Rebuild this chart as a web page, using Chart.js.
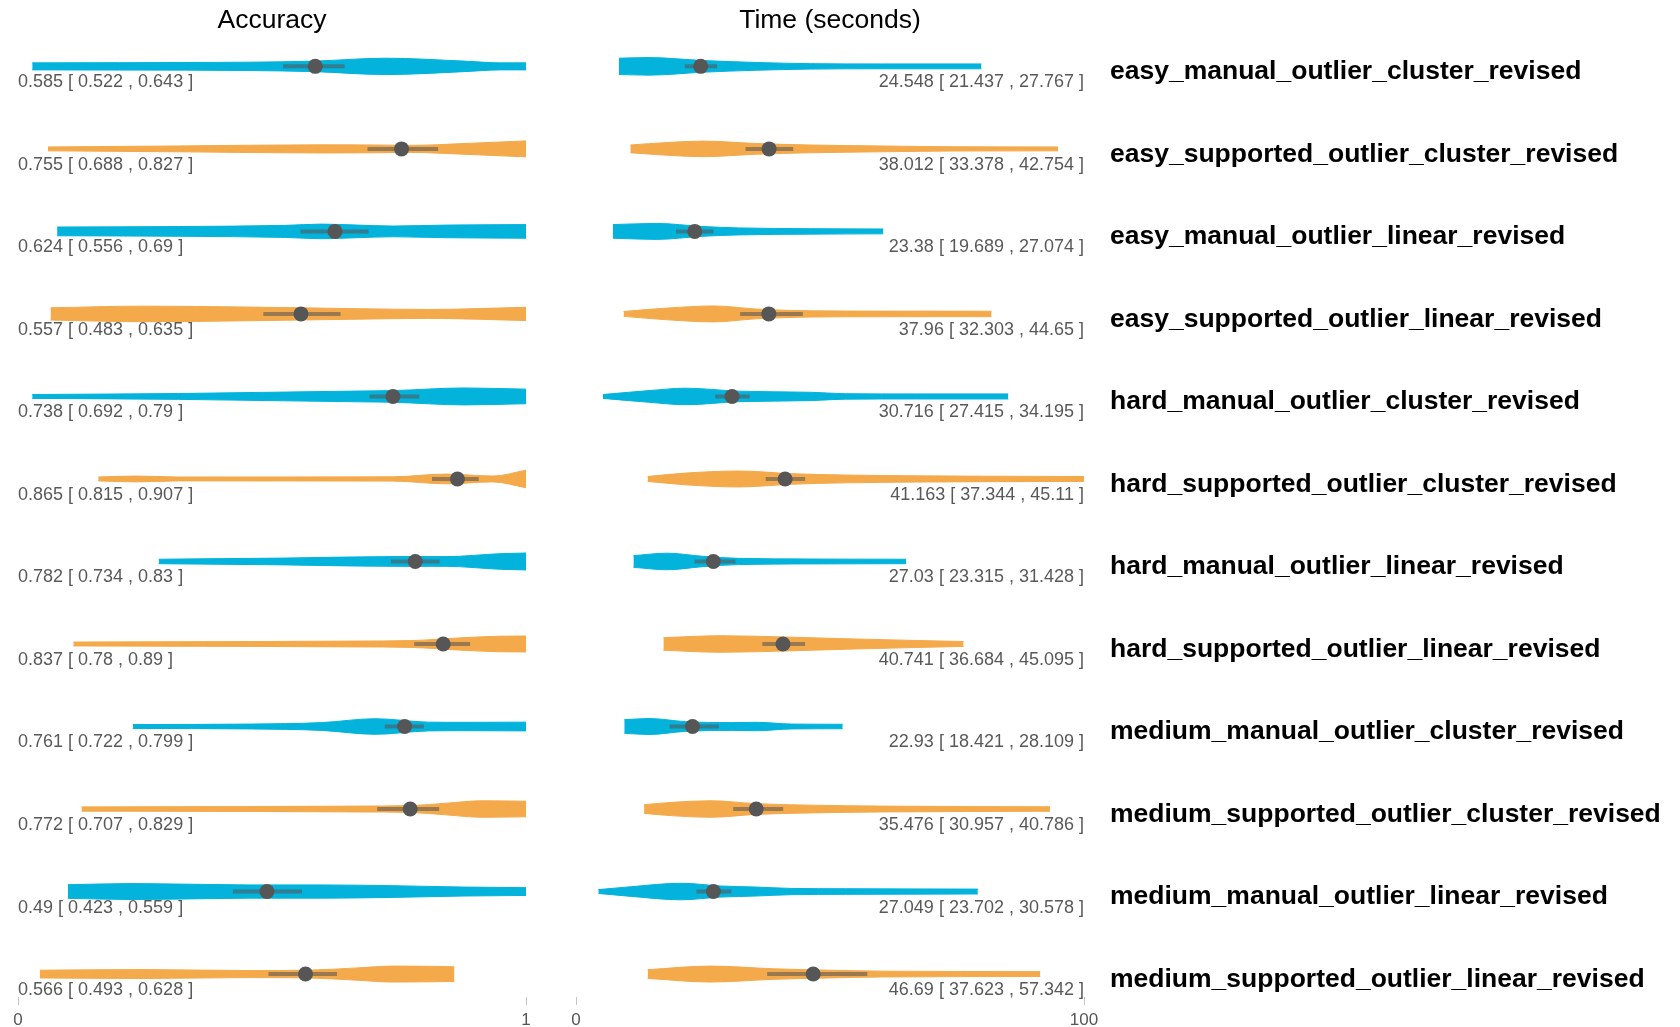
<!DOCTYPE html>
<html>
<head>
<meta charset="utf-8">
<title>Accuracy and time by condition</title>
<script src="https://cdn.jsdelivr.net/npm/chart.js@4.4.1/dist/chart.umd.min.js"></script>
<style>
  html, body { margin: 0; padding: 0; background: #ffffff; }
  #wrap { position: relative; width: 1680px; height: 1027px; overflow: hidden; background: #ffffff; }
  #accChart { position: absolute; left: 0; top: 0; }
  #timeChart { position: absolute; left: 560px; top: 0; }
</style>
</head>
<body>
<div id="wrap">
  <canvas id="accChart" width="560" height="1027"></canvas>
  <canvas id="timeChart" width="1120" height="1027"></canvas>
</div>
<script>
// ---- conditions (one row each, top to bottom) ----
const categories = [
  'easy_manual_outlier_cluster_revised',
  'easy_supported_outlier_cluster_revised',
  'easy_manual_outlier_linear_revised',
  'easy_supported_outlier_linear_revised',
  'hard_manual_outlier_cluster_revised',
  'hard_supported_outlier_cluster_revised',
  'hard_manual_outlier_linear_revised',
  'hard_supported_outlier_linear_revised',
  'medium_manual_outlier_cluster_revised',
  'medium_supported_outlier_cluster_revised',
  'medium_manual_outlier_linear_revised',
  'medium_supported_outlier_linear_revised'
];

// ---- accuracy: mean and 95% CI ----
const accMean = [0.585, 0.755, 0.624, 0.557, 0.738, 0.865, 0.782, 0.837, 0.761, 0.772, 0.49, 0.566];
const accLow  = [0.522, 0.688, 0.556, 0.483, 0.692, 0.815, 0.734, 0.78, 0.722, 0.707, 0.423, 0.493];
const accHigh = [0.643, 0.827, 0.69, 0.635, 0.79, 0.907, 0.83, 0.89, 0.799, 0.829, 0.559, 0.628];

// ---- time (seconds): mean and 95% CI ----
const timeMean = [24.548, 38.012, 23.38, 37.96, 30.716, 41.163, 27.03, 40.741, 22.93, 35.476, 27.049, 46.69];
const timeLow  = [21.437, 33.378, 19.689, 32.303, 27.415, 37.344, 23.315, 36.684, 18.421, 30.957, 23.702, 37.623];
const timeHigh = [27.767, 42.754, 27.074, 44.65, 34.195, 45.11, 31.428, 45.095, 28.109, 40.786, 30.578, 57.342];

// ---- accuracy density profiles (sample positions and relative density) ----
const accDensX = [
  [0.028, 0.2, 0.457, 0.583, 0.724, 0.878, 0.949, 1.0],
  [0.059, 0.316, 0.597, 0.70, 0.773, 0.878, 1.0],
  [0.077, 0.316, 0.527, 0.597, 0.667, 0.738, 0.843, 1.0],
  [0.064, 0.246, 0.457, 0.667, 0.808, 1.0],
  [0.028, 0.316, 0.527, 0.667, 0.738, 0.878, 1.0],
  [0.158, 0.232, 0.316, 0.738, 0.843, 0.935, 1.0],
  [0.277, 0.527, 0.738, 0.843, 0.949, 1.0],
  [0.109, 0.457, 0.667, 0.773, 0.878, 0.949, 1.0],
  [0.226, 0.457, 0.597, 0.703, 0.808, 0.878, 1.0],
  [0.125, 0.457, 0.667, 0.773, 0.843, 0.914, 1.0],
  [0.098, 0.225, 0.457, 0.597, 0.738, 0.878, 1.0],
  [0.043, 0.246, 0.457, 0.572, 0.667, 0.738, 0.808, 0.859]
];
const accDensY = [
  [0.36, 0.38, 0.43, 0.54, 0.84, 0.54, 0.36, 0.36],
  [0.2, 0.3, 0.42, 0.4, 0.36, 0.55, 0.82],
  [0.45, 0.5, 0.62, 0.75, 0.65, 0.55, 0.65, 0.7],
  [0.63, 0.8, 0.7, 0.54, 0.46, 0.68],
  [0.2, 0.3, 0.45, 0.55, 0.6, 0.87, 0.75],
  [0.2, 0.3, 0.2, 0.22, 0.5, 0.3, 0.9],
  [0.23, 0.35, 0.5, 0.5, 0.8, 0.87],
  [0.2, 0.25, 0.3, 0.35, 0.65, 0.8, 0.82],
  [0.2, 0.25, 0.4, 0.8, 0.45, 0.43, 0.45],
  [0.22, 0.25, 0.3, 0.35, 0.6, 0.85, 0.8],
  [0.7, 0.82, 0.68, 0.68, 0.6, 0.46, 0.4],
  [0.4, 0.46, 0.36, 0.4, 0.63, 0.82, 0.8, 0.75]
];

// ---- time density profiles ----
const timeDensX = [
  [8.45, 14.4, 25.0, 35.5, 46.1, 60.1, 79.8],
  [10.7, 17.9, 25.0, 35.5, 46.1, 60.1, 74.2, 94.9],
  [7.26, 15.8, 25.0, 32.0, 46.1, 60.5],
  [9.37, 17.9, 27.1, 35.5, 46.1, 60.1, 81.8],
  [5.3, 14.4, 21.5, 32.0, 46.1, 53.1, 67.1, 85.1],
  [14.1, 21.5, 32.0, 42.5, 53.1, 67.1, 81.2, 100],
  [11.3, 17.9, 25.0, 32.0, 46.1, 65.0],
  [17.2, 28.5, 42.5, 53.1, 67.1, 76.3],
  [9.5, 14.4, 21.5, 30.6, 35.5, 42.5, 52.5],
  [13.4, 19.3, 26.4, 35.5, 46.1, 60.1, 93.3],
  [4.4, 10.9, 20.7, 28.5, 35.5, 42.5, 53.1, 79.1],
  [14.1, 26.4, 39.0, 49.6, 60.1, 91.4]
];
const timeDensY = [
  [0.84, 0.9, 0.6, 0.4, 0.28, 0.25, 0.25],
  [0.4, 0.65, 0.8, 0.55, 0.4, 0.3, 0.22, 0.2],
  [0.7, 0.82, 0.5, 0.36, 0.28, 0.25],
  [0.25, 0.6, 0.82, 0.5, 0.32, 0.29, 0.28],
  [0.2, 0.6, 0.85, 0.54, 0.43, 0.28, 0.26, 0.26],
  [0.25, 0.6, 0.82, 0.54, 0.4, 0.32, 0.28, 0.25],
  [0.6, 0.85, 0.53, 0.32, 0.25, 0.23],
  [0.65, 0.85, 0.7, 0.54, 0.36, 0.25],
  [0.7, 0.82, 0.5, 0.4, 0.43, 0.25, 0.23],
  [0.45, 0.7, 0.85, 0.55, 0.4, 0.3, 0.23],
  [0.2, 0.5, 0.85, 0.57, 0.46, 0.32, 0.29, 0.25],
  [0.45, 0.82, 0.54, 0.4, 0.3, 0.25]
];

const accTicks = [0, 1];
const timeTicks = [0, 100];

// ---- styling ----
const FONT = "'Liberation Sans', Arial, Helvetica, sans-serif";
const BLUE = '#03b3dc';
const ORANGE = '#f4a94b';
const DOT = '#565656';
const CI_COLOR = 'rgba(83,83,83,0.56)';
const HALF_WIDTH = 0.118;       // row units per unit of relative density
const Y_MIN = -0.322, Y_MAX = 11.278;

Chart.defaults.font.family = FONT;
Chart.defaults.animation = false;

function rowColor(i) {
  return categories[i].includes('_manual_') ? BLUE : ORANGE;
}

function buildDatasets(densX, densY, mean, low, high) {
  const sets = [];
  categories.forEach((_, i) => {
    const col = rowColor(i);
    const common = {
      type: 'line', borderColor: col, backgroundColor: col, borderWidth: 1,
      pointRadius: 0, cubicInterpolationMode: 'monotone', order: 3
    };
    sets.push(Object.assign({}, common, {
      data: densX[i].map((x, k) => ({ x: x, y: i - densY[i][k] * HALF_WIDTH })),
      fill: false
    }));
    sets.push(Object.assign({}, common, {
      data: densX[i].map((x, k) => ({ x: x, y: i + densY[i][k] * HALF_WIDTH })),
      fill: '-1'
    }));
  });
  categories.forEach((_, i) => {
    sets.push({
      type: 'line', data: [{ x: low[i], y: i }, { x: high[i], y: i }],
      borderColor: CI_COLOR, borderWidth: 4, borderCapStyle: 'butt',
      pointRadius: 0, fill: false, order: 2
    });
  });
  sets.push({
    type: 'line', data: mean.map((m, i) => ({ x: m, y: i })), showLine: false,
    pointRadius: 7.5, pointBackgroundColor: DOT, pointBorderWidth: 0,
    pointBorderColor: DOT, fill: false, order: 1
  });
  return sets;
}

// writes "mean [ low , high ]" under each violin
function summaryLabels(mean, low, high, side) {
  return {
    id: 'summaryLabels',
    afterDatasetsDraw(chart) {
      const ctx = chart.ctx;
      const xs = chart.scales.x, ys = chart.scales.y;
      ctx.save();
      ctx.font = '18px ' + FONT;
      ctx.fillStyle = '#595959';
      ctx.textBaseline = 'middle';
      ctx.textAlign = side;
      categories.forEach((_, i) => {
        const txt = mean[i] + ' [ ' + low[i] + ' , ' + high[i] + ' ]';
        const y = ys.getPixelForValue(i) + 16;
        ctx.fillText(txt, side === 'left' ? xs.left : xs.right, y);
      });
      ctx.restore();
    }
  };
}

function xAxis(min, max, ticks) {
  return {
    type: 'linear', min: min, max: max,
    afterBuildTicks: s => { s.ticks = ticks.map(v => ({ value: v })); },
    afterFit: s => { s.height = 30; s.paddingLeft = 0; s.paddingRight = 0; },
    grid: { drawOnChartArea: false, drawTicks: true, tickLength: 8, color: '#c4c4c4', lineWidth: 1 },
    border: { display: false },
    ticks: { padding: 5, color: '#555555', font: { size: 17 }, maxRotation: 0, autoSkip: false }
  };
}

function titleOpts(text) {
  return {
    display: true, text: text, fullSize: false, color: '#000000',
    font: { size: 26.5, weight: 'normal', family: FONT, lineHeight: 1.2 },
    padding: { top: 5, bottom: 3 }
  };
}

new Chart(document.getElementById('accChart'), {
  type: 'line',
  data: { datasets: buildDatasets(accDensX, accDensY, accMean, accLow, accHigh) },
  options: {
    responsive: false,
    layout: { padding: { left: 18, right: 34, top: 0, bottom: 0 } },
    plugins: { legend: { display: false }, tooltip: { enabled: false }, title: titleOpts('Accuracy') },
    events: [],
    scales: {
      x: xAxis(0, 1, accTicks),
      y: { type: 'linear', reverse: true, min: Y_MIN, max: Y_MAX, display: false }
    }
  },
  plugins: [summaryLabels(accMean, accLow, accHigh, 'left')]
});

new Chart(document.getElementById('timeChart'), {
  type: 'line',
  data: { datasets: buildDatasets(timeDensX, timeDensY, timeMean, timeLow, timeHigh) },
  options: {
    responsive: false,
    layout: { padding: { left: 16, right: 0, top: 0, bottom: 0 } },
    plugins: { legend: { display: false }, tooltip: { enabled: false }, title: titleOpts('Time (seconds)') },
    events: [],
    scales: {
      x: xAxis(0, 100, timeTicks),
      y: {
        type: 'linear', position: 'right', reverse: true, min: Y_MIN, max: Y_MAX,
        afterBuildTicks: s => { s.ticks = categories.map((_, i) => ({ value: i })); },
        afterFit: s => { s.width = 596; s.paddingTop = 0; s.paddingBottom = 0; },
        grid: { display: false, drawTicks: false },
        border: { display: false },
        ticks: {
          callback: v => categories[v], color: '#000000', autoSkip: false,
          font: { size: 26.5, weight: 'bold' }, padding: 26, labelOffset: 5.5, crossAlign: 'near'
        }
      }
    }
  },
  plugins: [summaryLabels(timeMean, timeLow, timeHigh, 'right')]
});
</script>
</body>
</html>
